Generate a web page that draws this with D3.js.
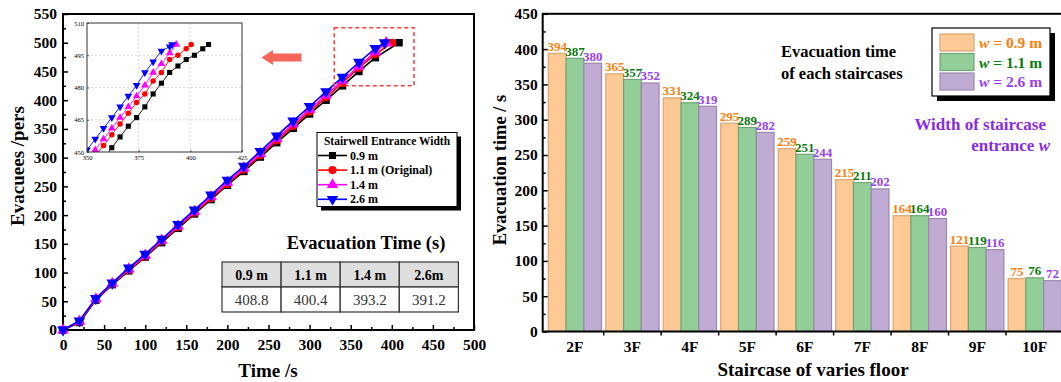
<!DOCTYPE html>
<html><head><meta charset="utf-8">
<script src="https://cdn.jsdelivr.net/npm/d3@7"></script>
<style>
body{margin:0;background:#fff}
svg{display:block}
text{font-family:"Liberation Serif","Times New Roman",serif}
</style>
</head><body>
<svg id="c" width="1061" height="382"></svg>
<script>
// ---------- Left panel data ----------
const mainTimes = [0,20,40,60,80,100,120,140,160,180,200,220,240,260,280,300,320,340,360,380];
const evac09 = [0,13,52,79,103,127,152,177,202,227,252,276,301,326,351,376,400,425,450,474];
const evac11 = [0,14,53,80,104,128,154,179,204,229,254,279,304,330,355,380,405,430,456,480];
const evac14 = [0,15,54,81,106,130,156,181,206,232,257,282,307,333,359,384,409,434,459,484];
const evac26 = [0,16,55,82,108,132,158,184,209,235,261,285,311,338,364,389,415,440,466,490];
const widthLabels = ["0.9 m","1.1 m (Original)","1.4 m","2.6 m"];
const tableHeads = ["0.9 m","1.1 m","1.4 m","2.6m"];
const evacTimes = [408.8,400.4,393.2,391.2];
const totalEvacuees = 500;
// inset (zoom 350-425 s)
const insetT09 = [358,362,366,370,374,378,382,386,390,394,398,402,406,408.8];
const insetV09 = [447,452,457,462,466,471,477,482,487,490,493,495,498,500];
const insetT11 = [354,358,362,366,370,374,378,382,386,390,394,398,400.4];
const insetV11 = [448,453,458,463,468,473,477,483,487,493,495,498,500];
const insetT14 = [350,354,358,362,366,370,374,378,382,386,390,393.2];
const insetV14 = [446,451,456,461,466,471,476,481,487,491,496,500];
const insetT26 = [350,354,358,362,366,370,374,378,382,386,390,391.2];
const insetV26 = [451,456,461,466,471,476,481,487,492,497,499,500];
const xTicksL = [0,50,100,150,200,250,300,350,400,450,500];
const yTicksL = [0,50,100,150,200,250,300,350,400,450,500,550];
const insetXTicks = [350,375,400,425];
const insetYTicks = [450,465,480,495,510];

// ---------- Right panel data ----------
const floors = ["2F","3F","4F","5F","6F","7F","8F","9F","10F"];
const time09 = [394,365,331,295,259,215,164,121,75];
const time11 = [387,357,324,289,251,211,164,119,76];
const time26 = [380,352,319,282,244,202,160,116,72];
const barLegend = ["0.9 m","1.1 m","2.6 m"];
const yTicksR = [0,50,100,150,200,250,300,350,400,450];

const svg = d3.select("#c");
const FONT = '"Liberation Serif","Times New Roman",serif';

// ================= LEFT PANEL =================
const L = {l:63, r:474, t:14, b:330};
const xL = d3.scaleLinear().domain([0,500]).range([L.l,L.r]);
const yL = d3.scaleLinear().domain([0,550]).range([L.b,L.t]);

const serCols = ["#000000","#ff0000","#ff00ff","#0000ff"];
const sym = [d3.symbolSquare,d3.symbolCircle,d3.symbolTriangle,d3.symbolTriangle];
const rot = [0,0,0,180];
const mainVals = [evac09,evac11,evac14,evac26];

// frame
svg.append("rect").attr("x",L.l).attr("y",L.t).attr("width",L.r-L.l).attr("height",L.b-L.t)
  .attr("fill","none").attr("stroke","#000").attr("stroke-width",2);

// axes
const gxL = svg.append("g").attr("transform",`translate(0,${L.b})`)
  .call(d3.axisBottom(xL).tickValues(xTicksL).tickSize(-5).tickPadding(9));
const gxLm = svg.append("g").attr("transform",`translate(0,${L.b})`)
  .call(d3.axisBottom(xL).tickValues(d3.range(25,500,50)).tickSize(-3).tickFormat(""));
const gyL = svg.append("g").attr("transform",`translate(${L.l},0)`)
  .call(d3.axisLeft(yL).tickValues(yTicksL).tickSize(-5).tickPadding(6));
const gyLm = svg.append("g").attr("transform",`translate(${L.l},0)`)
  .call(d3.axisLeft(yL).tickValues(d3.range(25,550,50)).tickSize(-3).tickFormat(""));
[gxL,gxLm,gyL,gyLm].forEach(g=>{g.select(".domain").remove();
  g.selectAll("line").attr("stroke","#000").attr("stroke-width",1.5);
  g.selectAll("text").attr("font-family",FONT).attr("font-size",15.5).attr("font-weight","bold").attr("fill","#000");});

// series
const lineL = d3.line().x(d=>xL(d[0])).y(d=>yL(d[1]));
mainVals.forEach((vals,i)=>{
  const pts = mainTimes.map((t,j)=>[t,vals[j]]).concat([[evacTimes[i],totalEvacuees]]);
  svg.append("path").datum(pts).attr("d",lineL).attr("fill","none")
    .attr("stroke",serCols[i]).attr("stroke-width",1.6);
  svg.append("g").selectAll("path").data(pts).join("path")
    .attr("d",d3.symbol().type(sym[i]).size(i===1?52:(i===0?56:60)))
    .attr("transform",d=>`translate(${xL(d[0])},${yL(d[1])}) rotate(${rot[i]})`)
    .attr("fill",serCols[i]);
});

// dashed zoom box and arrow
svg.append("rect").attr("x",xL(330)).attr("y",yL(526)).attr("width",xL(427)-xL(330)).attr("height",yL(425)-yL(526))
  .attr("fill","none").attr("stroke","#ff3b3b").attr("stroke-width",1.5).attr("stroke-dasharray","4,3");
svg.append("path").attr("d","M261.5,57.5 L273,50 L273,53.5 L301.5,53.5 L301.5,61.5 L273,61.5 L273,65 Z")
  .attr("fill","#f4655a");

// inset
const I = {l:87, r:242, t:23, b:152};
const xI = d3.scaleLinear().domain([350,425]).range([I.l,I.r]);
const yI = d3.scaleLinear().domain([450,510]).range([I.b,I.t]);
svg.append("rect").attr("x",I.l).attr("y",I.t).attr("width",I.r-I.l).attr("height",I.b-I.t).attr("fill","#fff");
const gridI = svg.append("g").attr("stroke","#c8c8c8").attr("stroke-width",0.7).attr("stroke-dasharray","2,2");
gridI.selectAll(".v").data([375,400]).join("line").attr("x1",d=>xI(d)).attr("x2",d=>xI(d)).attr("y1",I.t).attr("y2",I.b);
gridI.selectAll(".h").data([465,480,495]).join("line").attr("y1",d=>yI(d)).attr("y2",d=>yI(d)).attr("x1",I.l).attr("x2",I.r);
svg.append("defs").append("clipPath").attr("id","clipI").append("rect")
  .attr("x",I.l).attr("y",I.t).attr("width",I.r-I.l).attr("height",I.b-I.t);
const gI = svg.append("g").attr("clip-path","url(#clipI)");
const lineI = d3.line().x(d=>xI(d[0])).y(d=>yI(d[1]));
const insetData = [[insetT09,insetV09],[insetT11,insetV11],[insetT14,insetV14],[insetT26,insetV26]];
insetData.forEach(([ts,vs],i)=>{
  const pts = ts.map((t,j)=>[t,vs[j]]);
  gI.append("path").datum(pts).attr("d",lineI).attr("fill","none").attr("stroke",serCols[i]).attr("stroke-width",0.9);
  gI.append("g").selectAll("path").data(pts).join("path")
    .attr("d",d3.symbol().type(sym[i]).size(i===1?24:26))
    .attr("transform",d=>`translate(${xI(d[0])},${yI(d[1])}) rotate(${rot[i]})`)
    .attr("fill",serCols[i]);
});
svg.append("rect").attr("x",I.l).attr("y",I.t).attr("width",I.r-I.l).attr("height",I.b-I.t)
  .attr("fill","none").attr("stroke","#333").attr("stroke-width",1);
const gxI = svg.append("g").attr("transform",`translate(0,${I.b})`)
  .call(d3.axisBottom(xI).tickValues(insetXTicks).tickSize(-2).tickPadding(3));
const gyI = svg.append("g").attr("transform",`translate(${I.l},0)`)
  .call(d3.axisLeft(yI).tickValues(insetYTicks).tickSize(-2).tickPadding(3));
[gxI,gyI].forEach(g=>{g.select(".domain").remove();
  g.selectAll("line").attr("stroke","#333").attr("stroke-width",0.8);
  g.selectAll("text").attr("font-family",FONT).attr("font-size",6.5).attr("fill","#000");});

// left legend
const lg = {x:317, y:132.5, w:140, h:74};
svg.append("rect").attr("x",lg.x+4).attr("y",lg.y+4).attr("width",lg.w).attr("height",lg.h).attr("fill","#000");
svg.append("rect").attr("x",lg.x).attr("y",lg.y).attr("width",lg.w).attr("height",lg.h).attr("fill","#fff").attr("stroke","#000").attr("stroke-width",1);
svg.append("text").attr("x",lg.x+lg.w/2).attr("y",lg.y+12).attr("text-anchor","middle")
  .attr("font-size",11.5).attr("font-weight","bold").text("Stairwell Entrance Width");
widthLabels.forEach((lab,i)=>{
  const yy = lg.y+23+i*14.6;
  svg.append("line").attr("x1",318).attr("x2",347).attr("y1",yy).attr("y2",yy).attr("stroke",serCols[i]).attr("stroke-width",1.6);
  svg.append("path").attr("d",d3.symbol().type(sym[i]).size(i===1?52:(i===0?50:56)))
    .attr("transform",`translate(332.5,${yy}) rotate(${rot[i]})`).attr("fill",serCols[i]);
  svg.append("text").attr("x",350).attr("y",yy+4).attr("font-size",12).attr("font-weight","bold").text(lab);
});

// evacuation time table
svg.append("text").attr("x",366).attr("y",249).attr("text-anchor","middle")
  .attr("font-size",18.5).attr("font-weight","bold").text("Evacuation Time (s)");
const T = {x:222, y:262, cw:59.1, rh:25};
tableHeads.forEach((h,i)=>{
  const cx = T.x+i*T.cw;
  svg.append("rect").attr("x",cx).attr("y",T.y).attr("width",T.cw).attr("height",T.rh).attr("fill","#dedede").attr("stroke","#333").attr("stroke-width",1.2);
  svg.append("rect").attr("x",cx).attr("y",T.y+T.rh).attr("width",T.cw).attr("height",T.rh).attr("fill","#fff").attr("stroke","#333").attr("stroke-width",1.2);
  svg.append("text").attr("x",cx+T.cw/2).attr("y",T.y+17.5).attr("text-anchor","middle").attr("font-size",14).attr("font-weight","bold").text(h);
  svg.append("text").attr("x",cx+T.cw/2).attr("y",T.y+T.rh+18).attr("text-anchor","middle").attr("font-size",15).attr("fill","#333").text(evacTimes[i].toFixed(1));
});

// axis titles
svg.append("text").attr("transform","translate(24,166) rotate(-90)").attr("text-anchor","middle")
  .attr("font-size",19).attr("font-weight","bold").text("Evacuees /pers");
svg.append("text").attr("x",268).attr("y",377).attr("text-anchor","middle")
  .attr("font-size",19).attr("font-weight","bold").text("Time /s");

// ================= RIGHT PANEL =================
const R = {l:542.7, r:1067, t:13.8, b:331.5};
const yR = d3.scaleLinear().domain([0,450]).range([R.b,R.t]);
const xR = d3.scaleBand().domain(floors).range([R.l,R.r]).paddingInner(0.073).paddingOuter(0.0975);
const xSub = d3.scaleBand().domain([0,1,2]).range([0,xR.bandwidth()]);
const barFill = ["#fdc994","#93cd97","#c0abd3"];
const barStroke = ["#d9a676","#6fa874","#9c88ae"];
const labCol = ["#ff7f0e","#0b7a0b","#9a3ff0"];
const barVals = [time09,time11,time26];

// bars
barVals.forEach((vals,k)=>{
  svg.append("g").selectAll("rect").data(floors).join("rect")
    .attr("x",(d)=>xR(d)+xSub(k)).attr("width",xSub.bandwidth())
    .attr("y",(d,i)=>yR(vals[i])).attr("height",(d,i)=>R.b-yR(vals[i]))
    .attr("fill",barFill[k]).attr("stroke",barStroke[k]).attr("stroke-width",1.2);
});
barVals.forEach((vals,k)=>{
  svg.append("g").selectAll("text").data(floors).join("text")
    .attr("x",d=>xR(d)+xSub(k)+xSub.bandwidth()/2).attr("y",(d,i)=>yR(vals[i])-2.5)
    .attr("text-anchor","middle").attr("font-size",13).attr("font-weight","bold")
    .attr("fill",labCol[k]).text((d,i)=>vals[i]);
});

// frame
svg.append("rect").attr("x",R.l).attr("y",R.t).attr("width",R.r-R.l).attr("height",R.b-R.t)
  .attr("fill","none").attr("stroke","#000").attr("stroke-width",2);
const gyR = svg.append("g").attr("transform",`translate(${R.l},0)`)
  .call(d3.axisLeft(yR).tickValues(yTicksR).tickSize(-5).tickPadding(5));
const gyRm = svg.append("g").attr("transform",`translate(${R.l},0)`)
  .call(d3.axisLeft(yR).tickValues(d3.range(25,450,50)).tickSize(-3).tickFormat(""));
const gxR = svg.append("g").attr("transform",`translate(0,${R.b})`)
  .call(d3.axisBottom(xR).tickSize(0).tickPadding(9));
[gyR,gyRm,gxR].forEach(g=>{g.select(".domain").remove();
  g.selectAll("line").attr("stroke","#000").attr("stroke-width",1.5);
  g.selectAll("text").attr("font-family",FONT).attr("font-size",15.5).attr("font-weight","bold").attr("fill","#000");});
// group boundary ticks
const gap = xR.step()*xR.paddingInner();
svg.append("g").selectAll("line").data(floors.slice(1)).join("line")
  .attr("x1",d=>xR(d)-gap/2).attr("x2",d=>xR(d)-gap/2).attr("y1",R.b).attr("y2",R.b+4)
  .attr("stroke","#000").attr("stroke-width",1.5);

// legend (right)
const rl = {x:932, y:28, w:118, h:68};
svg.append("rect").attr("x",rl.x+5).attr("y",rl.y+5).attr("width",rl.w).attr("height",rl.h).attr("fill","#000");
svg.append("rect").attr("x",rl.x).attr("y",rl.y).attr("width",rl.w).attr("height",rl.h).attr("fill","#fff").attr("stroke","#000").attr("stroke-width",1.2);
barLegend.forEach((lab,k)=>{
  const yy = rl.y+6+k*19.5;
  svg.append("rect").attr("x",940).attr("y",yy).attr("width",34).attr("height",17)
    .attr("fill",barFill[k]).attr("stroke",barStroke[k]).attr("stroke-width",1.2);
  const t = svg.append("text").attr("x",979).attr("y",yy+14).attr("font-size",15.5).attr("font-weight","bold").attr("fill",labCol[k]);
  t.append("tspan").attr("font-style","italic").text("w");
  t.append("tspan").text(" = "+lab);
});

// annotations
svg.append("text").attr("x",781).attr("y",57).attr("font-size",16.5).attr("font-weight","bold").text("Evacuation time");
svg.append("text").attr("x",781).attr("y",79).attr("font-size",16.5).attr("font-weight","bold").text("of each staircases");
svg.append("text").attr("x",1046).attr("y",130).attr("text-anchor","end").attr("font-size",17).attr("font-weight","bold").attr("fill","#8a2be2").text("Width of staircase");
const ew = svg.append("text").attr("x",1050).attr("y",151).attr("text-anchor","end").attr("font-size",17).attr("font-weight","bold").attr("fill","#8a2be2");
ew.append("tspan").text("entrance ");
ew.append("tspan").attr("font-style","italic").text("w");

// axis titles
svg.append("text").attr("transform","translate(506,170) rotate(-90)").attr("text-anchor","middle")
  .attr("font-size",18.5).attr("font-weight","bold").text("Evacuation time / s");
svg.append("text").attr("x",813).attr("y",376).attr("text-anchor","middle")
  .attr("font-size",19).attr("font-weight","bold").text("Staircase of varies floor");
</script>
</body></html>
